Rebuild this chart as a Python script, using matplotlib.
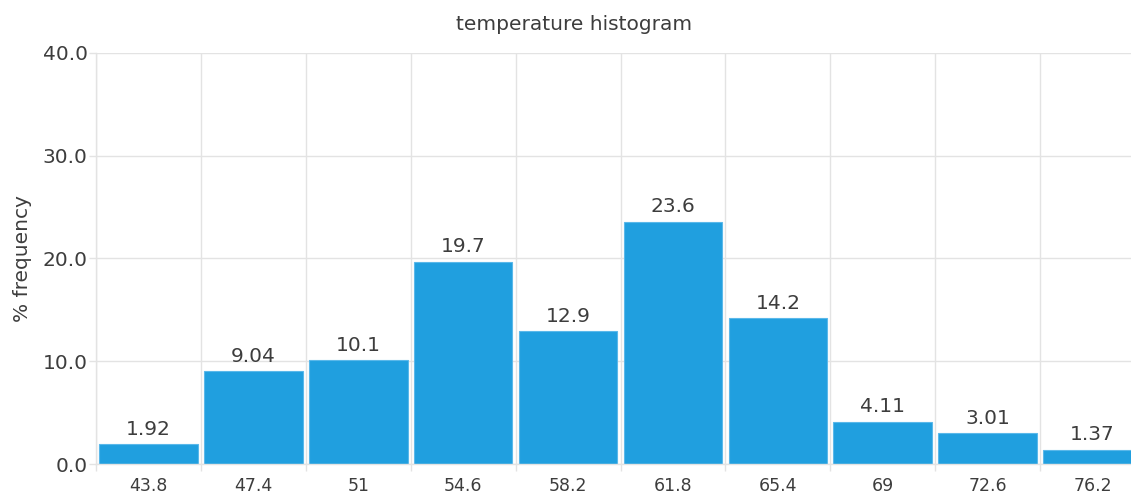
import matplotlib
matplotlib.use("Agg")
import matplotlib.pyplot as plt
import numpy as np
from matplotlib.ticker import FixedLocator

bin_labels = ["43.8", "47.4", "51", "54.6", "58.2", "61.8", "65.4", "69", "72.6", "76.2"]
frequency = [1.92, 9.04, 10.1, 19.7, 12.9, 23.6, 14.2, 4.11, 3.01, 1.37]
bar_labels = ["1.92", "9.04", "10.1", "19.7", "12.9", "23.6", "14.2", "4.11", "3.01", "1.37"]
y_ticks = [0, 10, 20, 30, 40]

BAR_COLOR = "#209fdf"
BAR_EDGE = "#5ab8ea"
TEXT_COLOR = "#3d3d3d"
GRID_COLOR = "#e3e3e3"

plt.rcParams["font.family"] = ["DejaVu Sans"]

fig = plt.figure(figsize=(11.31, 4.94), dpi=100)
ax = fig.add_axes([96 / 1131, 1 - 464 / 494, (1145 - 96) / 1131, (464 - 53) / 494])

x = np.arange(len(frequency)) + 0.5
bars = ax.bar(x, frequency, width=0.94, color=BAR_COLOR, edgecolor=BAR_EDGE,
              linewidth=0.8, zorder=2)
for rect, text in zip(bars, bar_labels):
    ax.annotate(
        text,
        (rect.get_x() + rect.get_width() / 2, rect.get_height()),
        xytext=(0, 4),
        textcoords="offset points",
        ha="center",
        va="bottom",
        fontsize=14.5,
        color=TEXT_COLOR,
    )

ax.set_xlim(0, len(frequency))
ax.set_ylim(0, 40)

# bin edges carry the grid and tick marks, centers carry the labels
ax.xaxis.set_major_locator(FixedLocator(np.arange(len(frequency) + 1)))
ax.xaxis.set_minor_locator(FixedLocator(x))
ax.set_xticklabels([], minor=False)
ax.set_xticklabels(bin_labels, minor=True)
ax.tick_params(axis="x", which="major", length=5, width=1, color=GRID_COLOR)
ax.tick_params(axis="x", which="minor", length=0, pad=9, labelsize=12.5, labelcolor=TEXT_COLOR)

ax.set_yticks(y_ticks)
ax.set_yticklabels([f"{v:.1f}" for v in y_ticks])
ax.tick_params(axis="y", length=5, width=1, color=GRID_COLOR, pad=1, labelsize=14.5,
               labelcolor=TEXT_COLOR)

ax.grid(True, which="major", color=GRID_COLOR, linewidth=1, zorder=0)
ax.set_axisbelow(True)
for side in ("top", "right"):
    ax.spines[side].set_visible(False)
for side in ("left", "bottom"):
    ax.spines[side].set_color(GRID_COLOR)
    ax.spines[side].set_linewidth(1)

ax.set_ylabel("% frequency", fontsize=14.5, color=TEXT_COLOR, labelpad=8)
fig.text(574 / 1131, 1 - 25 / 494, "temperature histogram", ha="center", va="center",
         fontsize=14.5, color=TEXT_COLOR)

fig.savefig("out.png", dpi=100)
